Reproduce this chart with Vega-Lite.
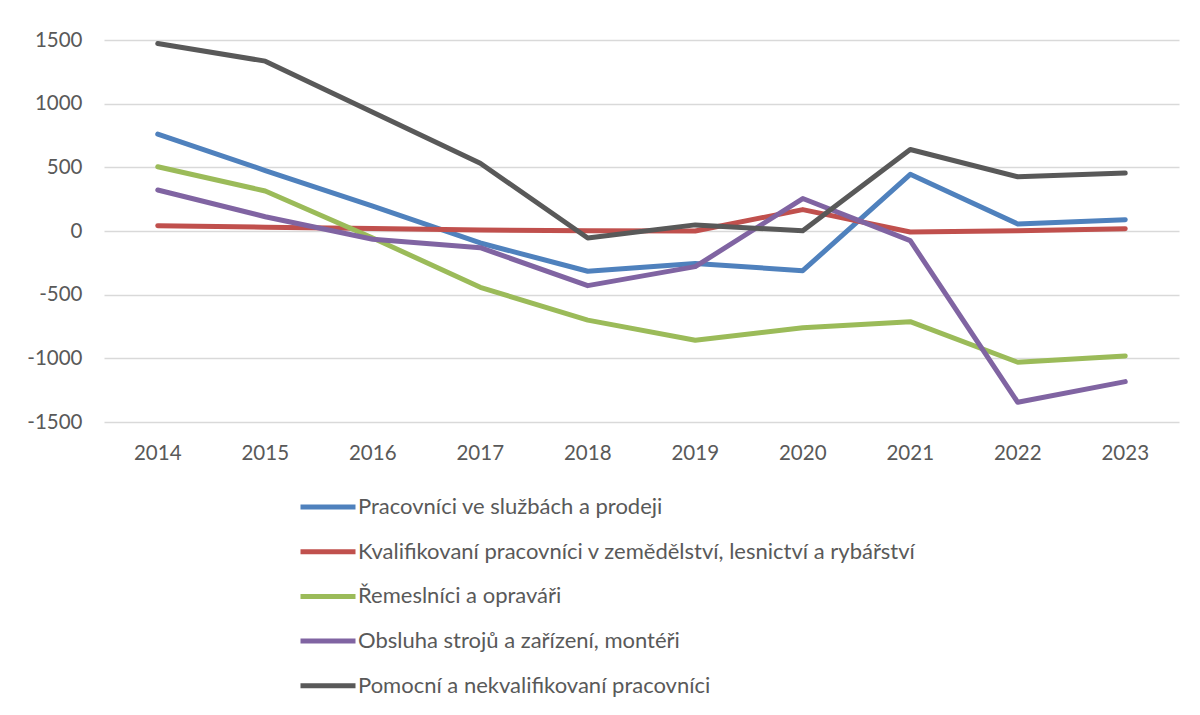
{
  "$schema": "https://vega.github.io/schema/vega-lite/v6.json",
  "width": 1075,
  "height": 382,
  "autosize": "none",
  "padding": {"left": 104, "top": 40, "right": 21, "bottom": 293},
  "background": "white",
  "config": {
    "view": {"stroke": null},
    "font": "Lato"
  },
  "data": {
    "values": [
      {"rok": "2014", "skupina": "Pracovníci ve službách a prodeji", "hodnota": 761},
      {"rok": "2015", "skupina": "Pracovníci ve službách a prodeji", "hodnota": 475},
      {"rok": "2016", "skupina": "Pracovníci ve službách a prodeji", "hodnota": 196},
      {"rok": "2017", "skupina": "Pracovníci ve službách a prodeji", "hodnota": -94},
      {"rok": "2018", "skupina": "Pracovníci ve službách a prodeji", "hodnota": -316},
      {"rok": "2019", "skupina": "Pracovníci ve službách a prodeji", "hodnota": -255},
      {"rok": "2020", "skupina": "Pracovníci ve službách a prodeji", "hodnota": -312},
      {"rok": "2021", "skupina": "Pracovníci ve službách a prodeji", "hodnota": 445},
      {"rok": "2022", "skupina": "Pracovníci ve službách a prodeji", "hodnota": 55},
      {"rok": "2023", "skupina": "Pracovníci ve službách a prodeji", "hodnota": 89},

      {"rok": "2014", "skupina": "Kvalifikovaní pracovníci v zemědělství, lesnictví a rybářství", "hodnota": 42},
      {"rok": "2015", "skupina": "Kvalifikovaní pracovníci v zemědělství, lesnictví a rybářství", "hodnota": 30},
      {"rok": "2016", "skupina": "Kvalifikovaní pracovníci v zemědělství, lesnictví a rybářství", "hodnota": 20},
      {"rok": "2017", "skupina": "Kvalifikovaní pracovníci v zemědělství, lesnictví a rybářství", "hodnota": 8},
      {"rok": "2018", "skupina": "Kvalifikovaní pracovníci v zemědělství, lesnictví a rybářství", "hodnota": 2},
      {"rok": "2019", "skupina": "Kvalifikovaní pracovníci v zemědělství, lesnictví a rybářství", "hodnota": 0},
      {"rok": "2020", "skupina": "Kvalifikovaní pracovníci v zemědělství, lesnictví a rybářství", "hodnota": 168},
      {"rok": "2021", "skupina": "Kvalifikovaní pracovníci v zemědělství, lesnictví a rybářství", "hodnota": -8},
      {"rok": "2022", "skupina": "Kvalifikovaní pracovníci v zemědělství, lesnictví a rybářství", "hodnota": 2},
      {"rok": "2023", "skupina": "Kvalifikovaní pracovníci v zemědělství, lesnictví a rybářství", "hodnota": 18},

      {"rok": "2014", "skupina": "Řemeslníci a opraváři", "hodnota": 505},
      {"rok": "2015", "skupina": "Řemeslníci a opraváři", "hodnota": 314},
      {"rok": "2016", "skupina": "Řemeslníci a opraváři", "hodnota": -55},
      {"rok": "2017", "skupina": "Řemeslníci a opraváři", "hodnota": -442},
      {"rok": "2018", "skupina": "Řemeslníci a opraváři", "hodnota": -700},
      {"rok": "2019", "skupina": "Řemeslníci a opraváři", "hodnota": -858},
      {"rok": "2020", "skupina": "Řemeslníci a opraváři", "hodnota": -760},
      {"rok": "2021", "skupina": "Řemeslníci a opraváři", "hodnota": -712},
      {"rok": "2022", "skupina": "Řemeslníci a opraváři", "hodnota": -1031},
      {"rok": "2023", "skupina": "Řemeslníci a opraváři", "hodnota": -981},

      {"rok": "2014", "skupina": "Obsluha strojů a zařízení, montéři", "hodnota": 322},
      {"rok": "2015", "skupina": "Obsluha strojů a zařízení, montéři", "hodnota": 112},
      {"rok": "2016", "skupina": "Obsluha strojů a zařízení, montéři", "hodnota": -65},
      {"rok": "2017", "skupina": "Obsluha strojů a zařízení, montéři", "hodnota": -131},
      {"rok": "2018", "skupina": "Obsluha strojů a zařízení, montéři", "hodnota": -429},
      {"rok": "2019", "skupina": "Obsluha strojů a zařízení, montéři", "hodnota": -280},
      {"rok": "2020", "skupina": "Obsluha strojů a zařízení, montéři", "hodnota": 255},
      {"rok": "2021", "skupina": "Obsluha strojů a zařízení, montéři", "hodnota": -76},
      {"rok": "2022", "skupina": "Obsluha strojů a zařízení, montéři", "hodnota": -1345},
      {"rok": "2023", "skupina": "Obsluha strojů a zařízení, montéři", "hodnota": -1183},

      {"rok": "2014", "skupina": "Pomocní a nekvalifikovaní pracovníci", "hodnota": 1472},
      {"rok": "2015", "skupina": "Pomocní a nekvalifikovaní pracovníci", "hodnota": 1334},
      {"rok": "2016", "skupina": "Pomocní a nekvalifikovaní pracovníci", "hodnota": 932},
      {"rok": "2017", "skupina": "Pomocní a nekvalifikovaní pracovníci", "hodnota": 532},
      {"rok": "2018", "skupina": "Pomocní a nekvalifikovaní pracovníci", "hodnota": -55},
      {"rok": "2019", "skupina": "Pomocní a nekvalifikovaní pracovníci", "hodnota": 48},
      {"rok": "2020", "skupina": "Pomocní a nekvalifikovaní pracovníci", "hodnota": 2},
      {"rok": "2021", "skupina": "Pomocní a nekvalifikovaní pracovníci", "hodnota": 640},
      {"rok": "2022", "skupina": "Pomocní a nekvalifikovaní pracovníci", "hodnota": 426},
      {"rok": "2023", "skupina": "Pomocní a nekvalifikovaní pracovníci", "hodnota": 455}
    ]
  },
  "mark": {"type": "line", "strokeWidth": 5, "strokeCap": "round", "strokeJoin": "round"},
  "encoding": {
    "x": {
      "field": "rok",
      "type": "ordinal",
      "scale": {"type": "band", "paddingInner": 0, "paddingOuter": 0},
      "axis": {
        "title": null,
        "labelAngle": 0,
        "labelFontSize": 20.5,
        "labelColor": "#595959",
        "labelPadding": 21,
        "ticks": false,
        "domain": false,
        "grid": false
      }
    },
    "y": {
      "field": "hodnota",
      "type": "quantitative",
      "scale": {"domain": [-1500, 1500], "nice": false, "zero": false},
      "axis": {
        "title": null,
        "values": [-1500, -1000, -500, 0, 500, 1000, 1500],
        "labelExpr": "'' + datum.value",
        "labelFontSize": 20.5,
        "labelColor": "#595959",
        "labelPadding": 22,
        "ticks": false,
        "domain": false,
        "gridColor": "#d9d9d9",
        "gridWidth": 1.5
      }
    },
    "color": {
      "field": "skupina",
      "type": "nominal",
      "scale": {
        "domain": [
          "Pracovníci ve službách a prodeji",
          "Kvalifikovaní pracovníci v zemědělství, lesnictví a rybářství",
          "Řemeslníci a opraváři",
          "Obsluha strojů a zařízení, montéři",
          "Pomocní a nekvalifikovaní pracovníci"
        ],
        "range": ["#4F81BD", "#C0504D", "#9BBB59", "#8064A2", "#595959"]
      },
      "legend": {
        "title": null,
        "orient": "none",
        "legendX": 194,
        "legendY": 437,
        "direction": "vertical",
        "symbolType": "stroke",
        "symbolSize": 3025,
        "symbolStrokeWidth": 5,
        "labelFontSize": 22,
        "labelColor": "#595959",
        "labelOffset": 0,
        "labelLimit": 0,
        "rowPadding": 3.7,
        "padding": 0
      }
    }
  }
}
